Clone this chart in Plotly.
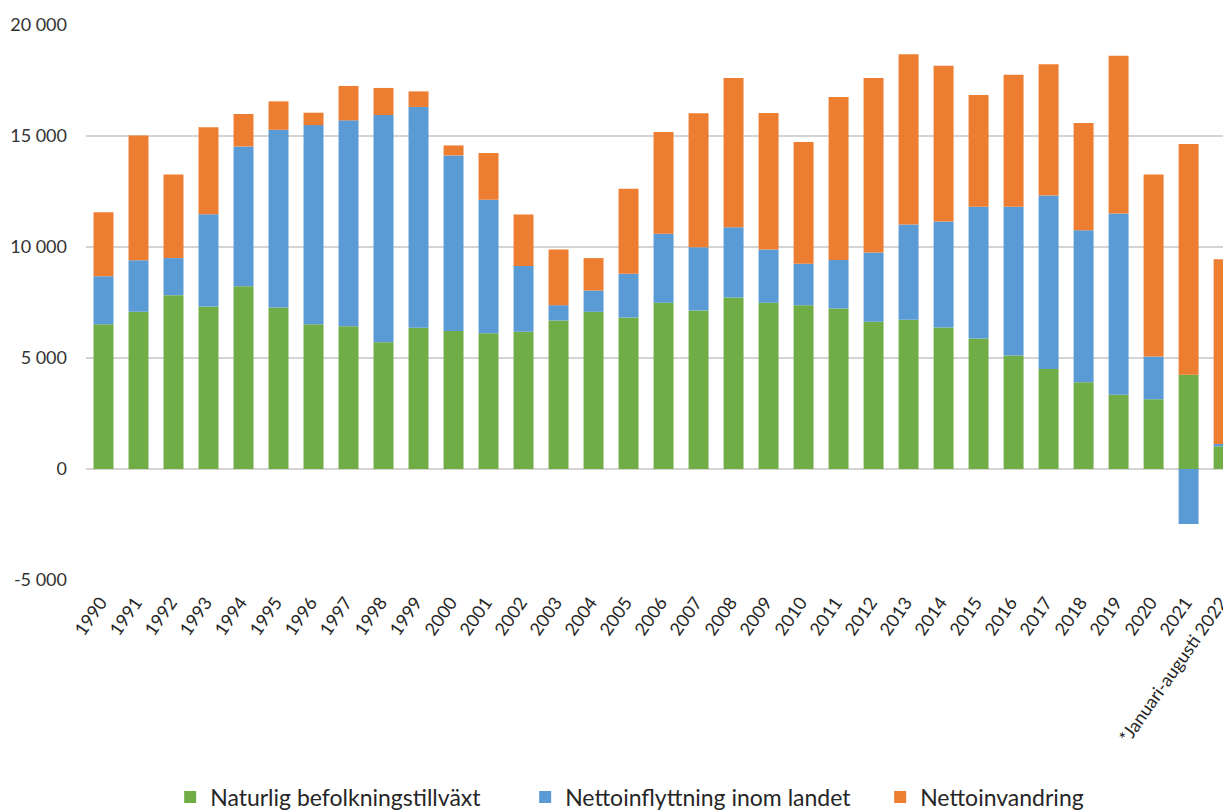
import plotly.graph_objects as go

categories = [str(y) for y in range(1990, 2022)] + ["*Januari-augusti 2022"]

naturlig = [6520, 7080, 7830, 7320, 8230, 7270, 6520, 6430, 5710, 6360,
            6220, 6115, 6180, 6690, 7080, 6820, 7485, 7140, 7720, 7485,
            7380, 7230, 6630, 6720, 6370, 5875, 5110, 4510, 3905, 3350,
            3140, 4250, 1020]
inrikes = [2165, 2326, 1670, 4150, 6300, 8010, 8970, 9275, 10235, 9950,
           7905, 6015, 2960, 690, 960, 1970, 3110, 2850, 3170, 2400,
           1865, 2180, 3125, 4295, 4780, 5940, 6700, 7810, 6855, 8160,
           1925, -2480, 110]
invandring = [2875, 5622, 3770, 3920, 1460, 1280, 560, 1550, 1220, 700,
              450, 2100, 2320, 2510, 1460, 3830, 4580, 6040, 6720, 6150,
              5485, 7350, 7860, 7665, 7020, 5030, 5950, 5910, 4825, 7110,
              8205, 10386, 8320]

series_names = ["Naturlig befolkningstillväxt", "Nettoinflyttning inom landet", "Nettoinvandring"]
colors = ["#70AD47", "#5B9BD5", "#ED7D31"]

ytick_vals = [-5000, 0, 5000, 10000, 15000, 20000]
ytick_text = ["-5 000", "0", "5 000", "10 000", "15 000", "20 000"]

fig = go.Figure()
for name, vals, col in zip(series_names, [naturlig, inrikes, invandring], colors):
    fig.add_trace(go.Bar(x=categories, y=vals, name=name,
                         marker=dict(color=col, line=dict(width=0))))

fig.update_layout(
    width=1231, height=812,
    barmode="relative",
    bargap=0.43,
    plot_bgcolor="white", paper_bgcolor="white",
    margin=dict(l=78, r=0, t=17, b=240, autoexpand=False),
    font=dict(family="Lato", size=18, color="#333333"),
    showlegend=True,
    legend=dict(orientation="h", x=0.073, xanchor="left", y=-0.391, yanchor="middle",
                font=dict(size=23, color="#262626"), traceorder="normal",
                itemwidth=30, entrywidth=310, entrywidthmode="pixels"),
)
fig.update_xaxes(type="category", range=[-0.5, 32.44], tickangle=-55,
                 showgrid=False, showline=False, ticks="outside", ticklen=0,
                 tickcolor="white", ticklabelstandoff=4, ticklabelshift=-3,
                 automargin=False,
                 tickfont=dict(size=18, color="#262626"))
fig.update_yaxes(range=[-5000, 20000], tickvals=ytick_vals, ticktext=ytick_text,
                 showgrid=True, gridcolor="#D4D4D4", gridwidth=1.5,
                 zeroline=False, showline=False, ticklabelstandoff=18,
                 automargin=False,
                 tickfont=dict(size=18, color="#333333"))

fig.write_html("out.html")
